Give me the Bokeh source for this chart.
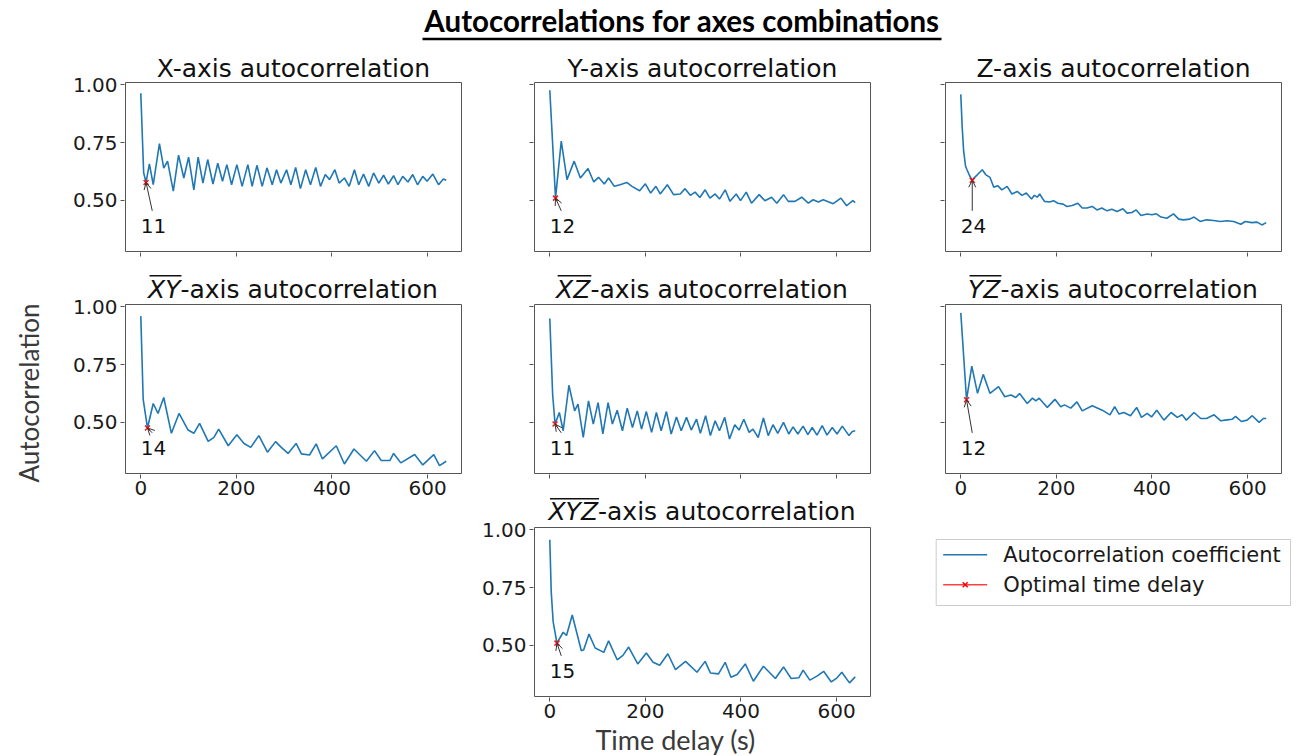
import math

from bokeh.core.properties import value
from bokeh.embed import file_html
from bokeh.layouts import column, row
from bokeh.models import (Arrow, FixedTicker, Label, NumeralTickFormatter,
                          OpenHead, Range1d, Title)
from bokeh.plotting import figure
from bokeh.resources import INLINE

# ---------------------------------------------------------------------------
# Autocorrelation curves (time delay in s, coefficient) per axis combination
# ---------------------------------------------------------------------------
x_lag = [0, 6, 11, 18, 26, 39, 48, 56, 68, 79, 90, 100, 111, 120, 130, 140, 151, 161, 171, 180,
         190, 201, 212, 224, 233, 243, 254, 264, 275, 284, 293, 305, 314, 324, 334, 345, 355, 366,
         376, 386, 395, 406, 415, 426, 436, 447, 456, 466, 477, 487, 498, 508, 518, 529, 538, 548,
         559, 569, 579, 590, 599, 611, 623, 633, 639]
x_acf = [0.964, 0.62, 0.578, 0.658, 0.568, 0.746, 0.64, 0.67, 0.54, 0.696, 0.597, 0.687, 0.546,
         0.687, 0.575, 0.677, 0.571, 0.661, 0.583, 0.655, 0.568, 0.655, 0.561, 0.655, 0.561, 0.652,
         0.561, 0.641, 0.568, 0.633, 0.575, 0.633, 0.568, 0.643, 0.551, 0.633, 0.568, 0.643, 0.561,
         0.612, 0.59, 0.633, 0.575, 0.597, 0.561, 0.633, 0.568, 0.614, 0.561, 0.619, 0.575, 0.609,
         0.571, 0.607, 0.568, 0.604, 0.58, 0.612, 0.568, 0.604, 0.583, 0.614, 0.568, 0.593, 0.587]

y_lag = [0, 12, 24, 36, 51, 64, 80, 92, 102, 114, 123, 135, 147, 161, 172, 188, 200, 211, 222, 231,
         246, 259, 273, 283, 294, 304, 314, 325, 335, 346, 355, 367, 377, 390, 399, 411, 422, 438,
         450, 464, 475, 489, 499, 513, 527, 541, 551, 562, 572, 593, 609, 621, 634, 639]
y_acf = [0.977, 0.51, 0.757, 0.59, 0.67, 0.597, 0.638, 0.58, 0.6, 0.571, 0.597, 0.561, 0.568, 0.578,
         0.561, 0.542, 0.572, 0.532, 0.561, 0.528, 0.568, 0.525, 0.528, 0.551, 0.522, 0.536, 0.513,
         0.546, 0.51, 0.528, 0.506, 0.546, 0.496, 0.528, 0.499, 0.536, 0.488, 0.525, 0.499, 0.514,
         0.488, 0.525, 0.496, 0.496, 0.514, 0.488, 0.503, 0.493, 0.503, 0.486, 0.51, 0.477, 0.499,
         0.491]

z_lag = [0, 3, 6, 10, 13, 18, 24, 29, 35, 45, 52, 61, 69, 77, 86, 97, 107, 118, 128, 137, 148, 154,
         160, 165, 175, 186, 194, 203, 214, 222, 233, 245, 254, 264, 275, 285, 295, 306, 316, 327,
         339, 348, 358, 367, 377, 390, 400, 409, 419, 431, 445, 456, 466, 479, 488, 501, 514, 529,
         543, 557, 571, 586, 595, 609, 620, 630, 639]
z_acf = [0.959, 0.814, 0.713, 0.648, 0.633, 0.609, 0.587, 0.6, 0.612, 0.633, 0.612, 0.6, 0.557,
         0.564, 0.546, 0.561, 0.528, 0.539, 0.522, 0.532, 0.506, 0.522, 0.514, 0.528, 0.496, 0.493,
         0.499, 0.488, 0.484, 0.474, 0.478, 0.488, 0.467, 0.467, 0.474, 0.459, 0.467, 0.455, 0.462,
         0.452, 0.464, 0.445, 0.448, 0.459, 0.435, 0.441, 0.438, 0.442, 0.428, 0.423, 0.442, 0.419,
         0.416, 0.419, 0.428, 0.409, 0.416, 0.413, 0.409, 0.412, 0.409, 0.397, 0.409, 0.404, 0.406,
         0.394, 0.404]

xy_lag = [0, 5, 14, 26, 36, 48, 64, 80, 99, 111, 123, 141, 153, 163, 183, 201, 216, 230, 247, 265,
          282, 294, 308, 325, 336, 353, 367, 380, 409, 426, 446, 472, 489, 503, 521, 529, 544, 573,
          590, 613, 625, 639]
xy_acf = [0.96, 0.6, 0.476, 0.582, 0.539, 0.608, 0.453, 0.539, 0.467, 0.453, 0.496, 0.418, 0.435,
          0.471, 0.399, 0.447, 0.409, 0.392, 0.443, 0.371, 0.417, 0.392, 0.366, 0.409, 0.364, 0.359,
          0.407, 0.342, 0.399, 0.32, 0.385, 0.332, 0.378, 0.335, 0.335, 0.366, 0.325, 0.361, 0.316,
          0.361, 0.313, 0.332]

xz_lag = [0, 6, 11, 20, 28, 40, 52, 59, 70, 81, 91, 101, 111, 122, 131, 141, 152, 162, 173, 183,
          192, 202, 213, 223, 233, 244, 254, 265, 275, 286, 296, 307, 315, 326, 336, 346, 355, 366,
          376, 387, 396, 406, 417, 425, 436, 447, 457, 467, 477, 489, 500, 509, 519, 530, 540, 549,
          559, 570, 580, 591, 601, 612, 626, 633, 639]
xz_acf = [0.95, 0.62, 0.493, 0.543, 0.464, 0.661, 0.55, 0.579, 0.435, 0.593, 0.493, 0.586, 0.45,
          0.586, 0.493, 0.553, 0.464, 0.562, 0.478, 0.55, 0.471, 0.547, 0.457, 0.543, 0.464, 0.547,
          0.45, 0.524, 0.464, 0.522, 0.467, 0.514, 0.453, 0.529, 0.443, 0.507, 0.464, 0.522, 0.428,
          0.49, 0.467, 0.514, 0.457, 0.471, 0.435, 0.519, 0.443, 0.49, 0.453, 0.5, 0.45, 0.481, 0.45,
          0.484, 0.447, 0.478, 0.445, 0.486, 0.445, 0.478, 0.45, 0.484, 0.443, 0.461, 0.464]

yz_lag = [0, 12, 23, 35, 47, 61, 79, 92, 105, 115, 123, 139, 150, 157, 164, 181, 197, 209, 217,
          230, 243, 254, 275, 296, 312, 322, 331, 341, 355, 368, 378, 390, 399, 410, 425, 440, 453,
          463, 472, 488, 502, 514, 530, 544, 557, 568, 575, 587, 599, 610, 624, 633, 639]
yz_acf = [0.974, 0.598, 0.744, 0.626, 0.708, 0.626, 0.655, 0.611, 0.619, 0.608, 0.625, 0.582,
          0.605, 0.593, 0.605, 0.565, 0.6, 0.568, 0.576, 0.562, 0.589, 0.55, 0.572, 0.553, 0.533,
          0.568, 0.536, 0.543, 0.529, 0.565, 0.522, 0.539, 0.524, 0.553, 0.51, 0.543, 0.522, 0.533,
          0.51, 0.543, 0.517, 0.517, 0.533, 0.507, 0.511, 0.514, 0.526, 0.504, 0.51, 0.529, 0.5,
          0.517, 0.517]

xyz_lag = [0, 3, 7, 15, 28, 35, 47, 66, 71, 82, 95, 113, 123, 141, 153, 165, 184, 202, 216, 230,
           247, 263, 284, 308, 325, 336, 353, 367, 379, 392, 409, 426, 447, 472, 489, 505, 521, 530,
           544, 559, 573, 589, 601, 611, 627, 639]
xyz_acf = [0.957, 0.732, 0.603, 0.51, 0.557, 0.543, 0.632, 0.477, 0.481, 0.549, 0.489, 0.47, 0.52,
           0.438, 0.457, 0.493, 0.42, 0.467, 0.427, 0.414, 0.464, 0.395, 0.431, 0.384, 0.431, 0.381,
           0.377, 0.427, 0.362, 0.374, 0.42, 0.345, 0.41, 0.357, 0.407, 0.357, 0.36, 0.393, 0.35,
           0.367, 0.388, 0.342, 0.36, 0.384, 0.338, 0.364]

# Optimal time delay (first minimum) per combination
opt_lag = {"X": 11, "Y": 12, "Z": 24, "XY": 14, "XZ": 11, "YZ": 12, "XYZ": 15}
opt_acf = {"X": 0.578, "Y": 0.51, "Z": 0.587, "XY": 0.476, "XZ": 0.493, "YZ": 0.598, "XYZ": 0.51}

x_ticks = [0, 200, 400, 600]
y_ticks = [0.50, 0.75, 1.00]

legend_labels = ["Autocorrelation coefficient", "Optimal time delay"]
main_title = "Autocorrelations for axes combinations"
y_title = "Autocorrelation"
x_title = "Time delay (s)"

# ---------------------------------------------------------------------------
# Styling / geometry
# ---------------------------------------------------------------------------
BLUE = "#1f77b4"
FRAME = "#555555"
INK = "#111111"
LABEL_INK = "#3a3a3a"
FW, FH = 336, 169                 # size of each axes box in px
X0, X1 = -32.0, 671.0             # data limits of the axes box
Y0, Y1 = 0.279, 1.0104
DXP = (X1 - X0) / FW              # data units per px
DYP = (Y1 - Y0) / FH
XC = (X0 + X1) / 2
TITLE_PX = 25
OBLIQUE_EM = {"X": 0.685, "Y": 0.611, "Z": 0.685}
REST_EM = 10.34                   # "-axis autocorrelation" in DejaVu Sans


def canvas(w, h):
    """Axis-free strip; coordinates are pixels from its top-left corner."""
    c = figure(width=w, height=h, x_range=Range1d(0, w), y_range=Range1d(h, 0),
               output_backend="svg", toolbar_location=None,
               min_border_left=0, min_border_right=0, min_border_top=0,
               min_border_bottom=0, x_axis_type=None, y_axis_type=None)
    c.title.visible = False
    c.grid.visible = False
    c.outline_line_color = None
    c.background_fill_color = "white"
    c.border_fill_color = "white"
    return c


def subplot(key, lags, acf, left, right, head_px, bottom, show_x, show_y, title_mid, over_px):
    """One autocorrelation panel; the plot frame also holds the panel heading
    (head_px pixels above the axes box) and a 1 px margin around the box."""
    p = figure(width=left + FW + 2 + right, height=head_px + FH + 1 + bottom,
               x_range=Range1d(X0 - DXP, X1 + DXP),
               y_range=Range1d(Y0 - DYP, Y1 + head_px * DYP),
               output_backend="svg", toolbar_location=None,
               min_border_left=left, min_border_right=right,
               min_border_top=0, min_border_bottom=bottom)
    p.title.visible = False
    p.grid.visible = False
    p.outline_line_color = None
    p.background_fill_color = "white"
    p.border_fill_color = "white"

    for ax, ticks, shown in ((p.xaxis[0], x_ticks, show_x), (p.yaxis[0], y_ticks, show_y)):
        ax.ticker = FixedTicker(ticks=ticks)
        ax.axis_line_color = None
        ax.major_tick_line_color = FRAME
        ax.major_tick_out = 4
        ax.major_tick_in = 0
        ax.minor_tick_line_color = None
        ax.major_label_standoff = 3
        ax.major_label_text_font = "DejaVu Sans"
        ax.major_label_text_color = "#1a1a1a"
        if shown:
            ax.major_label_text_font_size = "20px"
        else:
            ax.major_label_text_font_size = "0px"
            ax.major_label_text_alpha = 0
    p.xaxis[0].major_label_standoff = 2
    p.yaxis[0].formatter = NumeralTickFormatter(format="0.00")

    # axes box
    p.quad(left=[X0], right=[X1], bottom=[Y0], top=[Y1], fill_color=None,
           line_color=FRAME, line_width=1)

    p.line(lags, acf, line_color=BLUE, line_width=1.6)
    p.scatter([opt_lag[key]], [opt_acf[key]], marker="x", size=7,
              line_color="red", line_width=1.5, line_alpha=0.9)

    # lag value with an arrow pointing at the optimal delay
    p.add_layout(Arrow(end=OpenHead(size=7, line_color="#333333", line_width=1),
                       x_start=24, y_start=0.455,
                       x_end=opt_lag[key], y_end=opt_acf[key],
                       line_color="#333333", line_width=1))
    p.add_layout(Label(x=0, y=0.388, text=str(opt_lag[key]),
                       text_font="DejaVu Sans", text_font_size="20px",
                       text_color=INK, text_align="left", text_baseline="middle"))

    # panel heading; combined axes get an overlined italic name
    ty = Y1 + title_mid * DYP
    font = value("DejaVu Sans")
    if len(key) == 1:
        p.text(x=[XC], y=[ty], text=[f"{key}-axis autocorrelation"], text_font=font,
               text_font_size=f"{TITLE_PX}px", text_color=INK,
               text_align="center", text_baseline="middle")
    else:
        w_it = sum(OBLIQUE_EM[ch] for ch in key) * TITLE_PX
        x_start = XC - (w_it + REST_EM * TITLE_PX) / 2 * DXP
        x_split = x_start + w_it * DXP
        p.text(x=[x_split], y=[ty], text=[key], text_font=font, text_font_style="italic",
               text_font_size=f"{TITLE_PX}px", text_color=INK,
               text_align="right", text_baseline="middle")
        p.text(x=[x_split], y=[ty], text=["-axis autocorrelation"], text_font=font,
               text_font_size=f"{TITLE_PX}px", text_color=INK,
               text_align="left", text_baseline="middle")
        oy = Y1 + over_px * DYP
        p.segment(x0=[x_start + 1.5 * DXP], y0=[oy], x1=[x_split + 1 * DXP], y1=[oy],
                  line_color=INK, line_width=1.4)
    return p


# ---------------------------------------------------------------------------
# Page assembly
# ---------------------------------------------------------------------------
head = canvas(1302, 45)
head.text(x=[681.5], y=[19.5], text=[main_title], text_font=value("Lato"),
          text_font_style="bold", text_font_size="29.5px", text_color="black",
          text_align="center", text_baseline="middle")
head.segment(x0=[422], y0=[38.5], x1=[941], y1=[38.5], line_color="black", line_width=2.5)

# shared y label, in a strip left of the first column (page y = 45 at its top)
ylab = canvas(45, 711)
ylab.text(x=[28], y=[392.5 - 45], text=[y_title], angle=math.pi / 2, text_font=value("Lato"),
          text_font_size="26px", text_color=LABEL_INK, text_align="center",
          text_baseline="middle")

# column 1 (axes box starts at page x = 125)
fig_x = subplot("X", x_lag, x_acf, 79, 5, 37, 12, False, True, 13.7, 0)
fig_xy = subplot("XY", xy_lag, xy_acf, 79, 5, 40, 47, True, True, 15.5, 28.7)
col1 = column(fig_x, fig_xy)

# column 2 (axes box starts at page x = 534)
fig_y = subplot("Y", y_lag, y_acf, 66, 36, 37, 12, False, False, 13.7, 0)
fig_xz = subplot("XZ", xz_lag, xz_acf, 66, 36, 40, 11, False, False, 15.5, 28.7)
fig_xyz = subplot("XYZ", xyz_lag, xyz_acf, 66, 36, 42, 59, True, True, 16, 28.7)
fig_xyz.add_layout(Title(text=x_title, align="left", offset=62, standoff=0,
                         text_font="Lato", text_font_size="27px", text_font_style="normal",
                         text_color=LABEL_INK), "below")
col2 = column(fig_y, fig_xz, fig_xyz)

# column 3 (axes box starts at page x = 945)
fig_z = subplot("Z", z_lag, z_acf, 37, 20, 37, 12, False, False, 13.7, 0)
fig_yz = subplot("YZ", yz_lag, yz_acf, 37, 20, 40, 47, True, False, 15.5, 28.7)

# shared key, drawn in page pixels relative to the strip's left edge (x = 907)
leg = canvas(395, 235)
leg.quad(left=[28.7], right=[383], top=[18], bottom=[84], fill_color="white",
         line_color="#cccccc", line_width=1)
key_y = [33.3, 63.3]
leg.segment(x0=[35.7], y0=[key_y[0]], x1=[79.7], y1=[key_y[0]], line_color=BLUE, line_width=1.6)
leg.segment(x0=[35.7], y0=[key_y[1]], x1=[79.7], y1=[key_y[1]], line_color="red",
            line_alpha=0.75, line_width=1.6)
leg.scatter(x=[57.7], y=[key_y[1]], marker="x", size=7, line_color="red", line_width=1.5)
leg.text(x=[95.7, 95.7], y=key_y, text=legend_labels, text_font=value("DejaVu Sans"),
         text_font_size="21px", text_color="#1a1a1a", text_align="left",
         text_baseline="middle")
col3 = column(column(fig_z, fig_yz), leg)

layout = column(head, row(ylab, col1, col2, col3))

open("out.html", "w").write(file_html(layout, INLINE))
